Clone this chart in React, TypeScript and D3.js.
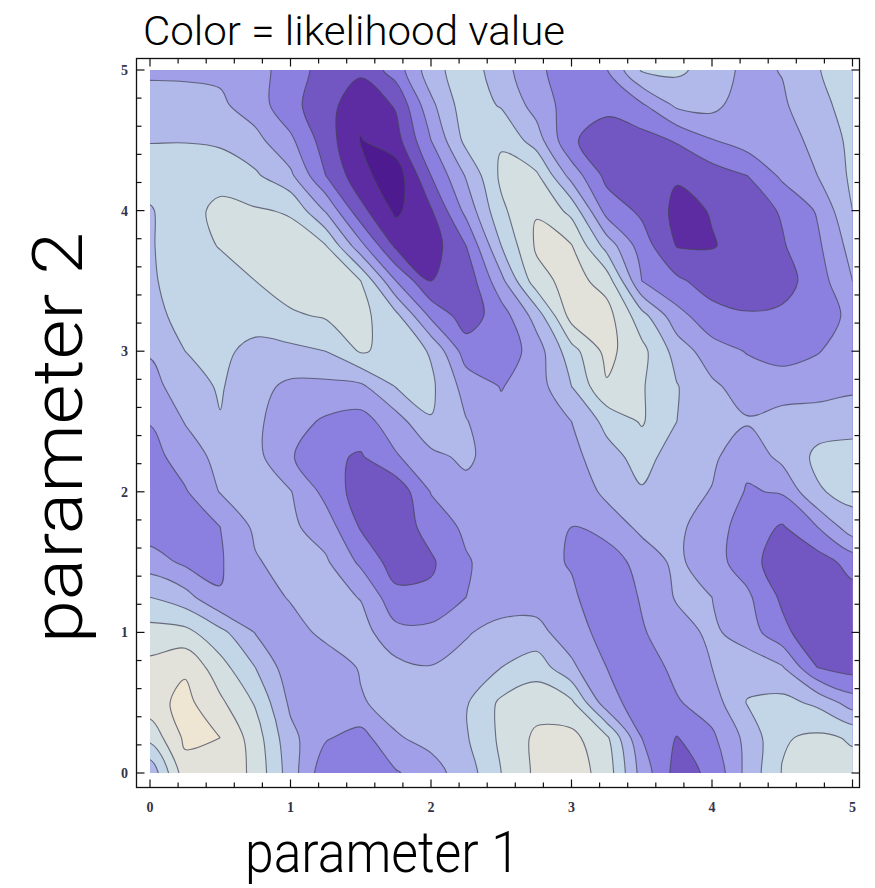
import { useEffect, useRef } from 'react';
import * as d3 from 'd3';

// likelihood surface, one row per y step (top row y = 5, bottom row y = 0),
// columns x = 0, 0.25, ... 5. Values are in "contour band" units: band k lies between k and k+1.
const gridStep = 0.25;
const yTop = 5;
const likelihood: number[][] = [
  [4.85, 4.85, 4.8, 4.4, 3.5, 2.6, 2.2, 3.45, 5.6, 6.6, 5.4, 4.2, 3.5, 3.95, 6.1, 6.2, 5.6, 4.7, 5.05, 5.95, 6.5],
  [5.36, 5.3, 5.18, 4.5, 3.3, 2.4, 1.3, 2.1, 4.75, 6.6, 5.9, 4.6, 3.5, 3.2, 3.85, 5.2, 5.3, 4.4, 4.85, 5.7, 6.4],
  [5.95, 5.95, 5.8, 5.3, 4.2, 2.5, 0.95, 1.6, 4.0, 6.3, 6.9, 5.5, 3.1, 2.6, 2.6, 3.1, 3.95, 4.5, 4.7, 5.2, 6.3],
  [6.5, 6.6, 6.7, 6.15, 5.2, 3.0, 1.3, 0.4, 3.0, 5.1, 7.2, 7.2, 4.6, 2.7, 2.3, 2.1, 2.5, 3.0, 4.2, 5.0, 6.2],
  [5.9, 6.7, 7.2, 7.1, 6.9, 4.9, 2.3, 0.8, 1.9, 4.3, 6.8, 7.95, 6.7, 3.6, 2.8, 1.75, 2.05, 2.5, 3.1, 4.1, 6.0],
  [5.9, 6.6, 7.05, 7.5, 7.4, 7.05, 4.3, 1.8, 1.5, 3.0, 6.0, 8.15, 8.05, 5.6, 3.5, 1.95, 1.95, 2.3, 2.9, 3.8, 5.4],
  [5.85, 6.5, 6.6, 7.0, 7.5, 7.4, 7.0, 4.0, 2.0, 2.3, 4.7, 7.6, 8.4, 7.6, 4.0, 3.2, 2.5, 2.4, 2.6, 3.5, 5.0],
  [5.7, 6.3, 6.6, 6.6, 6.85, 7.1, 7.3, 6.3, 3.8, 2.5, 3.5, 5.4, 8.4, 8.4, 6.4, 4.35, 3.4, 3.1, 3.2, 3.4, 4.3],
  [5.1, 6.0, 6.3, 5.6, 5.75, 6.0, 7.1, 6.7, 5.9, 3.5, 3.3, 4.5, 6.6, 8.3, 7.3, 5.6, 4.4, 3.95, 3.7, 3.95, 4.4],
  [4.6, 5.6, 6.1, 5.3, 4.8, 4.75, 4.8, 6.05, 6.2, 4.6, 3.95, 4.5, 6.0, 7.9, 7.1, 6.05, 5.2, 4.5, 4.4, 4.5, 4.8],
  [4.05, 5.05, 5.95, 5.2, 4.4, 3.85, 3.6, 4.55, 5.95, 5.05, 4.3, 4.5, 5.0, 6.3, 7.1, 6.0, 5.4, 5.1, 5.5, 5.6, 5.6],
  [3.6, 4.5, 5.3, 5.3, 4.1, 3.2, 2.9, 3.9, 4.7, 5.25, 4.3, 4.3, 4.7, 5.6, 6.4, 5.5, 5.2, 4.3, 5.3, 6.2, 6.4],
  [3.3, 3.9, 5.05, 5.4, 5.05, 3.7, 2.5, 2.3, 4.05, 4.6, 4.6, 4.2, 4.4, 5.2, 5.9, 5.4, 4.95, 3.9, 4.1, 5.9, 6.3],
  [3.4, 3.5, 4.0, 5.2, 5.2, 4.5, 2.9, 2.4, 3.4, 4.2, 4.4, 4.3, 4.0, 4.5, 5.2, 5.2, 4.5, 3.5, 2.9, 4.0, 5.6],
  [4.5, 3.8, 3.9, 4.9, 5.4, 5.15, 3.8, 2.5, 2.85, 3.9, 4.5, 4.4, 3.9, 3.3, 4.5, 5.2, 4.4, 3.5, 2.3, 2.5, 3.4],
  [6.0, 5.4, 4.05, 4.4, 5.1, 5.4, 4.95, 3.3, 3.2, 4.0, 4.4, 4.6, 4.2, 3.2, 4.1, 5.1, 5.0, 4.2, 2.8, 2.2, 2.6],
  [7.4, 7.3, 6.3, 4.95, 4.5, 5.3, 5.4, 4.3, 4.3, 4.9, 5.4, 5.3, 4.5, 3.6, 3.9, 4.6, 5.2, 4.5, 3.3, 2.2, 2.3],
  [8.3, 8.85, 7.4, 6.0, 4.4, 4.3, 5.1, 5.3, 5.05, 5.4, 6.0, 6.6, 5.2, 4.0, 3.4, 4.3, 5.0, 5.6, 5.1, 3.0, 2.6],
  [8.6, 9.3, 8.2, 6.9, 4.8, 4.1, 4.9, 5.4, 5.6, 5.9, 7.2, 7.6, 7.2, 4.4, 3.5, 3.9, 4.5, 6.05, 6.3, 5.8, 4.5],
  [7.3, 9.2, 9.0, 7.5, 5.3, 4.1, 3.6, 4.9, 5.3, 5.9, 7.2, 8.2, 8.3, 7.2, 4.0, 2.95, 3.8, 5.3, 6.9, 7.2, 6.9],
  [5.2, 8.6, 8.9, 7.7, 5.5, 3.3, 3.25, 3.9, 4.6, 5.5, 7.0, 8.2, 8.5, 7.6, 4.6, 2.6, 3.2, 5.3, 7.05, 7.4, 7.3],
];

const contourLevels = [1, 2, 3, 4, 5, 6, 7, 8, 9];
const bandColors = [
  '#4d1a8f', '#5d2ca3', '#7256c1', '#8b7fe0', '#a09fe7',
  '#b0b9e9', '#c3d6e8', '#d4dfe1', '#e2e2da', '#efe5d3',
];
const axisTicks = [0, 1, 2, 3, 4, 5];
const minorStep = 0.2;

export default function App() {
  const svgRef = useRef<SVGSVGElement>(null);

  useEffect(() => {
    if (!svgRef.current) return;
    const svg = d3.select(svgRef.current);
    svg.selectAll('*').remove();

    const x = d3.scaleLinear().domain([0, 5]).range([150, 852.5]);
    const y = d3.scaleLinear().domain([0, 5]).range([773, 70]);

    const nx = likelihood[0].length;
    const ny = likelihood.length;

    // repeat the edge cells once all round so the rings close outside the clipped plot
    const padded: number[] = [];
    for (let j = -1; j <= ny; j++) {
      const row = likelihood[Math.max(0, Math.min(ny - 1, j))];
      for (let i = -1; i <= nx; i++) padded.push(row[Math.max(0, Math.min(nx - 1, i))]);
    }
    const bands = d3.contours().size([nx + 2, ny + 2]).thresholds(contourLevels)(padded);

    const gx = (g: number) => x((g - 1.5) * gridStep);
    const gy = (g: number) => y(yTop - (g - 1.5) * gridStep);
    const ringLine = d3.line<number[]>()
      .x(p => gx(p[0]))
      .y(p => gy(p[1]))
      .curve(d3.curveCatmullRomClosed.alpha(0.5));
    const pathOf = (mp: d3.ContourMultiPolygon) =>
      mp.coordinates.map(poly => poly.map(ring => ringLine(ring.slice(0, -1)) || '').join('')).join('');

    const defs = svg.append('defs');
    defs.append('clipPath').attr('id', 'plot-clip')
      .append('rect')
      .attr('x', x(0)).attr('y', y(5))
      .attr('width', x(5) - x(0)).attr('height', y(0) - y(5));

    const plot = svg.append('g').attr('clip-path', 'url(#plot-clip)');
    plot.append('rect')
      .attr('x', x(0)).attr('y', y(5))
      .attr('width', x(5) - x(0)).attr('height', y(0) - y(5))
      .attr('fill', bandColors[0]);

    plot.selectAll('path.band')
      .data(bands)
      .join('path')
      .attr('class', 'band')
      .attr('d', d => pathOf(d))
      .attr('fill', (_, i) => bandColors[i + 1])
      .attr('fill-rule', 'evenodd');

    plot.selectAll('path.iso')
      .data(bands)
      .join('path')
      .attr('class', 'iso')
      .attr('d', d => pathOf(d))
      .attr('fill', 'none')
      .attr('stroke', '#46465a')
      .attr('stroke-opacity', 0.75)
      .attr('stroke-width', 1.1);

    // frame
    const fx0 = 136.5, fx1 = 859.5, fy0 = 58.5, fy1 = 787.5;
    svg.append('rect')
      .attr('x', fx0).attr('y', fy0)
      .attr('width', fx1 - fx0).attr('height', fy1 - fy0)
      .attr('fill', 'none')
      .attr('stroke', '#111')
      .attr('stroke-width', 1.3);

    const minorTicks = d3.range(0, 5 + 1e-9, minorStep);
    const ticks = svg.append('g').attr('stroke', '#111').attr('stroke-width', 1.2);
    minorTicks.forEach(t => {
      const major = Math.abs(t - Math.round(t)) < 1e-6;
      const len = major ? 8 : 5;
      ticks.append('line').attr('x1', x(t)).attr('x2', x(t)).attr('y1', fy1).attr('y2', fy1 - len);
      ticks.append('line').attr('x1', x(t)).attr('x2', x(t)).attr('y1', fy0).attr('y2', fy0 + len);
      ticks.append('line').attr('y1', y(t)).attr('y2', y(t)).attr('x1', fx0).attr('x2', fx0 + len);
      ticks.append('line').attr('y1', y(t)).attr('y2', y(t)).attr('x1', fx1).attr('x2', fx1 - len);
    });

    const tickFont = '"Liberation Serif", "Times New Roman", serif';
    svg.append('g').selectAll('text')
      .data(axisTicks)
      .join('text')
      .attr('x', d => x(d))
      .attr('y', 812)
      .attr('text-anchor', 'middle')
      .style('font-family', tickFont)
      .style('font-size', '14px')
      .style('font-weight', 'bold')
      .style('fill', '#33334a')
      .text(d => String(d));

    svg.append('g').selectAll('text')
      .data(axisTicks)
      .join('text')
      .attr('x', 128)
      .attr('y', d => y(d))
      .attr('dy', '0.35em')
      .attr('text-anchor', 'end')
      .style('font-family', tickFont)
      .style('font-size', '14px')
      .style('font-weight', 'bold')
      .style('fill', '#33334a')
      .text(d => String(d));

    const labelFont = 'Roboto, "Liberation Sans", Arial, sans-serif';
    svg.append('text')
      .attr('x', 143)
      .attr('y', 45)
      .attr('textLength', 422)
      .attr('lengthAdjust', 'spacingAndGlyphs')
      .style('font-family', labelFont)
      .style('font-weight', 300)
      .style('font-size', '41px')
      .style('fill', '#000')
      .text('Color = likelihood value');

    svg.append('text')
      .attr('x', 245)
      .attr('y', 872)
      .attr('textLength', 275)
      .attr('lengthAdjust', 'spacingAndGlyphs')
      .style('font-family', labelFont)
      .style('font-weight', 300)
      .style('font-size', '58px')
      .style('fill', '#000')
      .text('parameter 1');

    svg.append('text')
      .attr('transform', 'translate(82,643) rotate(-90)')
      .attr('textLength', 411)
      .attr('lengthAdjust', 'spacingAndGlyphs')
      .style('font-family', labelFont)
      .style('font-weight', 300)
      .style('font-size', '70px')
      .style('fill', '#000')
      .text('parameter 2');
  }, []);

  return (
    <svg
      ref={svgRef}
      width={875}
      height={888}
      style={{ position: 'absolute', left: 0, top: 0, background: '#fff' }}
    />
  );
}
